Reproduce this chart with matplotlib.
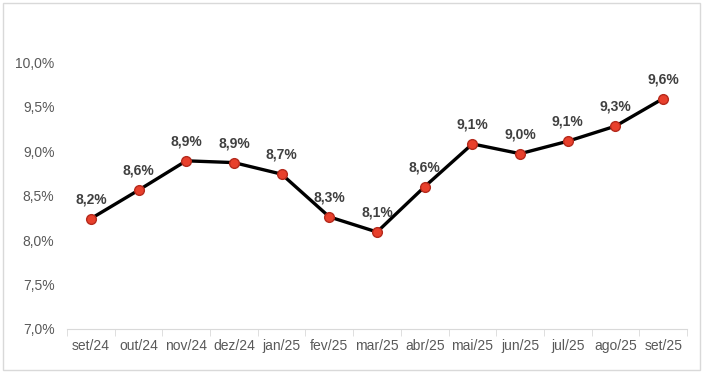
import matplotlib
matplotlib.use("Agg")
import matplotlib.pyplot as plt
from matplotlib.patches import Rectangle

categories = ["set/24", "out/24", "nov/24", "dez/24", "jan/25", "fev/25", "mar/25",
              "abr/25", "mai/25", "jun/25", "jul/25", "ago/25", "set/25"]
values = [8.24, 8.56, 8.89, 8.87, 8.74, 8.26, 8.09, 8.60, 9.08, 8.97, 9.11, 9.28, 9.59]
labels = ["8,2%", "8,6%", "8,9%", "8,9%", "8,7%", "8,3%", "8,1%",
          "8,6%", "9,1%", "9,0%", "9,1%", "9,3%", "9,6%"]
yticks = [7.0, 7.5, 8.0, 8.5, 9.0, 9.5, 10.0]
ytick_labels = ["7,0%", "7,5%", "8,0%", "8,5%", "9,0%", "9,5%", "10,0%"]

plt.rcParams['font.family'] = ['Liberation Sans', 'DejaVu Sans']

fig = plt.figure(figsize=(7.03, 3.76), dpi=100)
ax = fig.add_axes([0.0953, 0.125, 0.882, 0.71])

x = list(range(len(categories)))
ax.plot(x, values, color="black", linewidth=2.4, marker="o", markersize=7,
        markerfacecolor="#e8402c", markeredgecolor="#b52a1c", markeredgewidth=1.0,
        solid_joinstyle="round", zorder=3)
for xi, v, lab in zip(x, values, labels):
    ax.annotate(lab, (xi, v), xytext=(0, 9), textcoords="offset points",
                ha="center", va="bottom", fontsize=10, fontweight="bold", color="#404040")

ax.set_xlim(-0.5, len(categories) - 0.5)
ax.set_ylim(7.0, 10.0)
ax.set_yticks(yticks)
ax.set_yticklabels(ytick_labels)
ax.set_xticks(x)
ax.set_xticklabels(categories)
ax.set_xticks([i + 0.5 for i in range(-1, len(categories))], minor=True)

for s in ["top", "right", "left"]:
    ax.spines[s].set_visible(False)
ax.spines["bottom"].set_color("#d9d9d9")
ax.tick_params(axis="y", length=0, labelsize=10, labelcolor="#595959", pad=9)
ax.tick_params(axis="x", which="major", length=0, labelsize=10, labelcolor="#595959", pad=7)
ax.tick_params(axis="x", which="minor", length=5, color="#d9d9d9", direction="out")

fig.patches.append(Rectangle((0.004, 0.016), 0.992, 0.976, transform=fig.transFigure,
                             fill=False, edgecolor="#d9d9d9", linewidth=1.0))

fig.savefig("out.png", dpi=100)
